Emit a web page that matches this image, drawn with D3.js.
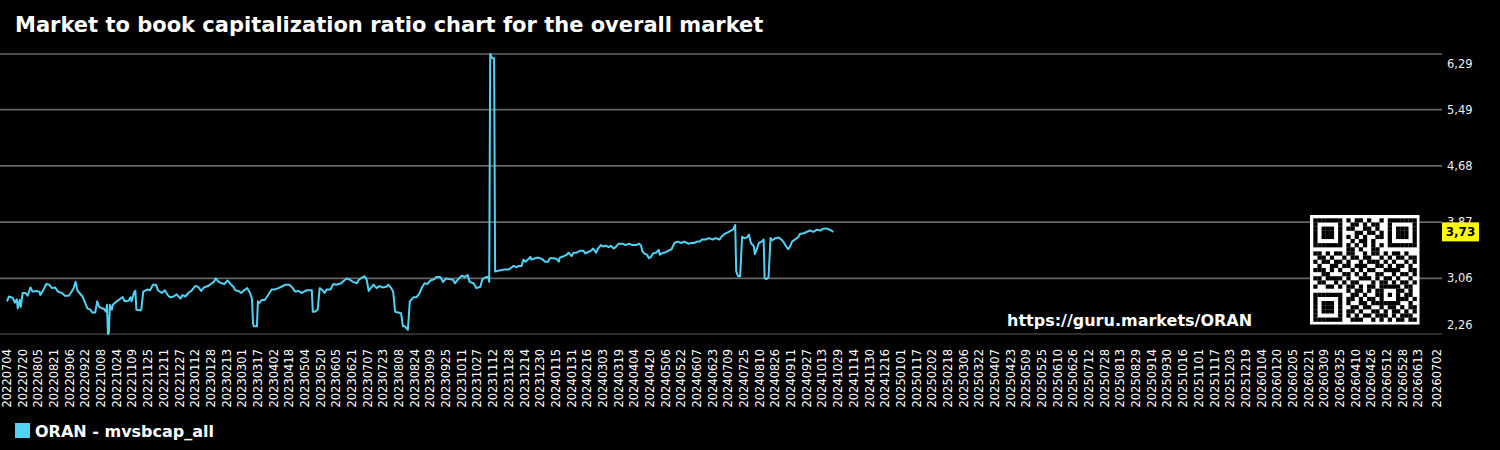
<!DOCTYPE html>
<html><head><meta charset="utf-8">
<script src="https://cdn.jsdelivr.net/npm/d3@7"></script>
<style>html,body{margin:0;padding:0;background:#000;} svg{display:block;} text{font-family:"DejaVu Sans",sans-serif;}</style>
</head><body><svg id="c" width="1500" height="450"></svg>
<script>
const title = "Market to book capitalization ratio chart for the overall market";
const seriesName = "ORAN - mvsbcap_all";
const siteUrl = "https://guru.markets/ORAN";
const lastValue = 3.73;
const dates = [
"2022-07-04","2022-07-06","2022-07-10","2022-07-12","2022-07-14","2022-07-15","2022-07-17","2022-07-18","2022-07-20","2022-07-23",
"2022-07-25","2022-07-28","2022-07-30","2022-08-03","2022-08-06","2022-08-07","2022-08-11","2022-08-13","2022-08-16","2022-08-19",
"2022-08-22","2022-08-25","2022-08-29","2022-09-01","2022-09-05","2022-09-07","2022-09-10","2022-09-12","2022-09-14","2022-09-16",
"2022-09-19","2022-09-22","2022-09-24","2022-09-27","2022-09-29","2022-10-02","2022-10-04","2022-10-06","2022-10-09","2022-10-11",
"2022-10-13","2022-10-14","2022-10-15","2022-10-16","2022-10-17","2022-10-19","2022-10-20","2022-10-24","2022-10-27","2022-10-30",
"2022-11-01","2022-11-05","2022-11-07","2022-11-08","2022-11-11","2022-11-12","2022-11-13","2022-11-17","2022-11-18","2022-11-20",
"2022-11-24","2022-11-27","2022-11-30","2022-12-03","2022-12-05","2022-12-09","2022-12-12","2022-12-15","2022-12-17","2022-12-21",
"2022-12-24","2022-12-28","2022-12-30","2023-01-02","2023-01-05","2023-01-08","2023-01-12","2023-01-15","2023-01-18","2023-01-21",
"2023-01-25","2023-01-28","2023-01-31","2023-02-02","2023-02-05","2023-02-08","2023-02-11","2023-02-14","2023-02-17","2023-02-20",
"2023-02-22","2023-02-25","2023-02-28","2023-03-03","2023-03-06","2023-03-09","2023-03-11","2023-03-12","2023-03-13","2023-03-16",
"2023-03-17","2023-03-18","2023-03-21","2023-03-24","2023-03-27","2023-03-31","2023-04-03","2023-04-07","2023-04-10","2023-04-14",
"2023-04-18","2023-04-21","2023-04-24","2023-04-27","2023-05-01","2023-05-03","2023-05-06","2023-05-11","2023-05-12","2023-05-14",
"2023-05-17","2023-05-19","2023-05-22","2023-05-24","2023-05-26","2023-05-30","2023-06-02","2023-06-05","2023-06-10","2023-06-13",
"2023-06-16","2023-06-19","2023-06-22","2023-06-26","2023-06-28","2023-07-02","2023-07-04","2023-07-06","2023-07-08","2023-07-10",
"2023-07-13","2023-07-16","2023-07-19","2023-07-22","2023-07-26","2023-07-28","2023-07-31","2023-08-02","2023-08-04","2023-08-07",
"2023-08-10","2023-08-12","2023-08-14","2023-08-17","2023-08-19","2023-08-21","2023-08-23","2023-08-26","2023-08-29","2023-08-31",
"2023-09-03","2023-09-06","2023-09-09","2023-09-13","2023-09-15","2023-09-19","2023-09-22","2023-09-25","2023-09-28","2023-10-02",
"2023-10-04","2023-10-08","2023-10-11","2023-10-14","2023-10-17","2023-10-19","2023-10-23","2023-10-26","2023-10-30","2023-11-01",
"2023-11-05","2023-11-07","2023-11-08","2023-11-09","2023-11-11","2023-11-13","2023-11-14","2023-11-17","2023-11-21","2023-11-24",
"2023-11-28","2023-11-30","2023-12-03","2023-12-06","2023-12-08","2023-12-11","2023-12-13","2023-12-15","2023-12-18","2023-12-20",
"2023-12-21","2023-12-25","2023-12-28","2024-01-01","2024-01-04","2024-01-07","2024-01-09","2024-01-13","2024-01-16","2024-01-18",
"2024-01-19","2024-01-23","2024-01-26","2024-01-28","2024-01-31","2024-02-02","2024-02-05","2024-02-09","2024-02-12","2024-02-14",
"2024-02-17","2024-02-20","2024-02-22","2024-02-25","2024-02-27","2024-03-01","2024-03-03","2024-03-06","2024-03-09","2024-03-11",
"2024-03-14","2024-03-16","2024-03-19","2024-03-23","2024-03-26","2024-03-30","2024-04-02","2024-04-06","2024-04-09","2024-04-11",
"2024-04-12","2024-04-14","2024-04-17","2024-04-19","2024-04-21","2024-04-23","2024-04-26","2024-04-29","2024-04-30","2024-05-03",
"2024-05-05","2024-05-09","2024-05-12","2024-05-15","2024-05-18","2024-05-22","2024-05-25","2024-05-29","2024-06-01","2024-06-04",
"2024-06-07","2024-06-10","2024-06-12","2024-06-16","2024-06-19","2024-06-23","2024-06-26","2024-06-30","2024-07-02","2024-07-05",
"2024-07-08","2024-07-12","2024-07-14","2024-07-16","2024-07-17","2024-07-19","2024-07-21","2024-07-23","2024-07-25","2024-07-28",
"2024-07-30","2024-08-01","2024-08-04","2024-08-05","2024-08-07","2024-08-09","2024-08-12","2024-08-14","2024-08-15","2024-08-17",
"2024-08-19","2024-08-21","2024-08-23","2024-08-26","2024-08-29","2024-09-01","2024-09-03","2024-09-06","2024-09-08","2024-09-10",
"2024-09-12","2024-09-15","2024-09-18","2024-09-20","2024-09-24","2024-09-27","2024-09-30","2024-10-04","2024-10-07","2024-10-11",
"2024-10-13","2024-10-16","2024-10-19","2024-10-22","2024-10-24"
];
const values = [
2.73,2.80,2.78,2.71,2.76,2.63,2.75,2.65,2.85,2.85,
2.81,2.93,2.87,2.88,2.87,2.82,2.92,2.98,2.97,2.92,
2.93,2.87,2.85,2.81,2.81,2.85,2.92,3.01,2.88,2.85,
2.80,2.70,2.63,2.61,2.57,2.57,2.73,2.65,2.63,2.62,
2.58,2.68,2.26,2.29,2.68,2.61,2.68,2.73,2.76,2.79,
2.73,2.74,2.79,2.73,2.87,2.88,2.61,2.60,2.61,2.87,
2.90,2.89,2.97,2.97,2.89,2.85,2.89,2.82,2.79,2.80,
2.83,2.77,2.82,2.80,2.85,2.88,2.95,2.94,2.88,2.93,
2.95,2.98,3.01,3.06,3.01,2.99,2.98,3.03,2.98,2.94,
2.89,2.88,2.85,2.89,2.92,2.85,2.76,2.41,2.37,2.37,
2.73,2.70,2.75,2.75,2.81,2.90,2.90,2.92,2.94,2.97,
2.97,2.93,2.87,2.88,2.85,2.87,2.89,2.89,2.58,2.58,
2.61,2.92,2.89,2.85,2.90,2.90,2.98,2.97,2.99,3.03,
3.06,3.04,3.01,2.99,3.04,3.08,3.09,3.04,2.88,2.92,
2.97,2.92,2.95,2.93,2.94,2.97,2.92,2.87,2.58,2.57,
2.56,2.37,2.37,2.32,2.73,2.76,2.79,2.79,2.85,2.92,
2.99,2.98,3.03,3.05,3.08,3.08,3.01,3.06,3.05,3.04,
2.99,3.06,3.10,3.08,3.11,3.01,2.99,2.92,2.94,3.05,
3.08,3.08,3.01,6.29,6.23,6.23,3.16,3.17,3.18,3.19,
3.19,3.21,3.24,3.22,3.24,3.24,3.33,3.30,3.34,3.37,
3.33,3.35,3.36,3.34,3.30,3.30,3.35,3.35,3.34,3.30,
3.36,3.38,3.40,3.43,3.38,3.43,3.43,3.46,3.46,3.42,
3.44,3.46,3.49,3.43,3.49,3.54,3.52,3.53,3.51,3.53,
3.49,3.51,3.56,3.56,3.54,3.56,3.54,3.54,3.56,3.53,
3.46,3.42,3.40,3.35,3.37,3.42,3.43,3.47,3.40,3.43,
3.43,3.46,3.48,3.57,3.59,3.57,3.59,3.56,3.57,3.57,
3.59,3.59,3.62,3.62,3.64,3.62,3.64,3.62,3.66,3.70,
3.72,3.75,3.77,3.83,3.16,3.09,3.09,3.66,3.64,3.65,
3.69,3.57,3.52,3.41,3.48,3.57,3.59,3.62,3.06,3.05,
3.08,3.64,3.61,3.64,3.65,3.62,3.59,3.52,3.48,3.52,
3.59,3.62,3.65,3.70,3.71,3.73,3.75,3.73,3.76,3.75,
3.77,3.78,3.77,3.75,3.73
];
const xTickLabels = [
"20220704","20220720","20220805","20220821","20220906","20220922","20221008","20221024","20221109","20221125","20221211","20221227",
"20230112","20230128","20230213","20230301","20230317","20230402","20230418","20230504","20230520","20230605","20230621","20230707",
"20230723","20230808","20230824","20230909","20230925","20231011","20231027","20231112","20231128","20231214","20231230",
"20240115","20240131","20240216","20240303","20240319","20240404","20240420","20240506","20240522","20240607","20240623","20240709",
"20240725","20240810","20240826","20240911","20240927","20241013","20241029","20241114","20241130","20241216",
"20250101","20250117","20250202","20250218","20250306","20250322","20250407","20250423","20250509","20250525","20250610","20250626",
"20250712","20250728","20250813","20250829","20250914","20250930","20251016","20251101","20251117","20251203","20251219",
"20260104","20260120","20260205","20260221","20260309","20260325","20260410","20260426","20260512","20260528","20260613","20260702"
];
const yTickValues = [2.26, 3.06, 3.87, 4.68, 5.49, 6.29];
const qrRows = [
"1111111010110100101111111",
"1000001001101011001000001",
"1011101011001101001011101",
"1011101000110110101011101",
"1011101010101001101011101",
"1000001001011010001000001",
"1111111010101010101111111",
"0000000011010011000000000",
"1101011011001011010110100",
"0110100101101100101011011",
"1011011010010111010100101",
"0100110110111001101011010",
"1110101001010110011110011",
"0011000110101001100101101",
"1101111010011101011010010",
"0110010101100010110101101",
"1001101011010110111110110",
"0000000010110101100011010",
"1111111001101001101010110",
"1000001011010110100011101",
"1011101010011011111110010",
"1011101001101100101101011",
"1011101011010011010110101",
"1000001010101101110101110",
"1111111001110010101011011"
];

const lineColor = "#50d2f5";
const parseD = d3.timeParse("%Y-%m-%d");
const parseT = d3.timeParse("%Y%m%d");
const svg = d3.select("#c");
svg.append("rect").attr("width",1500).attr("height",450).attr("fill","#000");

const x = d3.scaleTime()
  .domain([parseT(xTickLabels[0]), parseT(xTickLabels[xTickLabels.length-1])])
  .range([7, 1437]);
const y = d3.scaleLinear()
  .domain([yTickValues[0], yTickValues[yTickValues.length-1]])
  .range([334, 54]);

// grid
svg.append("g").selectAll("line").data(yTickValues).join("line")
  .attr("x1",0).attr("x2",1442)
  .attr("y1",d=>y(d)).attr("y2",d=>y(d))
  .attr("stroke",(d,i)=> i===0 ? "#3c3c3c" : "#666")
  .attr("stroke-width",1.6);

// y labels
const fmt = v => d3.format(".2f")(v).replace(".", ",");
svg.append("g").selectAll("text").data(yTickValues).join("text")
  .attr("x",1447)
  .attr("y",d=>Math.max(68, Math.min(329, y(d)+4)))
  .attr("fill","#eee").attr("font-size","11.5px")
  .text(fmt);

// x labels
svg.append("g").selectAll("text").data(xTickLabels).join("text")
  .attr("transform",d=>`translate(${x(parseT(d))},349) rotate(-90)`)
  .attr("text-anchor","end").attr("dy","0.35em")
  .attr("fill","#fff").attr("font-size","11.5px")
  .text(d=>d);

// line
const pts = dates.map((d,i)=>[parseD(d), values[i]]);
svg.append("path").datum(pts)
  .attr("fill","none").attr("stroke",lineColor).attr("stroke-width",2)
  .attr("stroke-linejoin","round")
  .attr("d", d3.line().x(d=>x(d[0])).y(d=>y(d[1])));

// title
svg.append("text").attr("x",15).attr("y",32).attr("fill","#fff")
  .attr("font-size","21px").attr("font-weight","bold").text(title);

// url
svg.append("text").attr("x",1007).attr("y",326).attr("fill","#fff")
  .attr("font-size","16px").attr("font-weight","bold").text(siteUrl);

// QR
const qx = 1310, qy = 215, qs = 109.5;
svg.append("rect").attr("x",qx).attr("y",qy).attr("width",qs).attr("height",qs).attr("fill","#fff");
const m = 103.4/25;
const qg = svg.append("g");
qrRows.forEach((row,r)=>{
  for(let c=0;c<row.length;c++){
    if(row[c]==="1") qg.append("rect").attr("x",qx+3.3+c*m).attr("y",qy+3.3+r*m)
      .attr("width",m+0.1).attr("height",m+0.1).attr("fill","#000");
  }
});

// last value tag
const ly = y(lastValue);
svg.append("rect").attr("x",1442).attr("y",ly-9.5).attr("width",37).attr("height",19).attr("fill","#ffff00");
svg.append("text").attr("x",1460.5).attr("y",ly).attr("dy","0.36em").attr("text-anchor","middle")
  .attr("font-size","12px").attr("font-weight","bold").attr("fill","#000").text(fmt(lastValue));

// legend
svg.append("rect").attr("x",15).attr("y",423).attr("width",15).attr("height",15).attr("fill",lineColor);
svg.append("text").attr("x",35).attr("y",437).attr("fill","#fff")
  .attr("font-size","16px").attr("font-weight","bold").text(seriesName);
</script>
</body></html>
